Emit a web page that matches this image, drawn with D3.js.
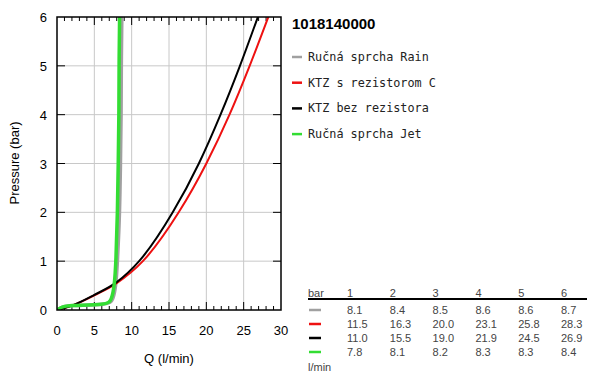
<!DOCTYPE html>
<html>
<head>
<meta charset="utf-8">
<script src="https://cdn.jsdelivr.net/npm/d3@7"></script>
<style>
  body { margin: 0; background: #fff; }
  svg { font-family: "Liberation Sans", Arial, sans-serif; }
  .mono { font-family: "DejaVu Sans Mono", "Liberation Mono", monospace; }
</style>
</head>
<body>
<svg id="vis" width="600" height="378"></svg>
<script>
// series: [Q (l/min), pressure (bar)]
var rain = [[0,0],[0.6,0.06],[1.5,0.1],[6.9,0.1],[7.5,0.2],[7.9,0.5],[8.1,1],[8.4,2],[8.5,3],[8.6,4],[8.6,5],[8.7,6.2]];
var ktzC = [[0,0],[1,0.04],[2,0.09],[5,0.3],[8,0.55],[11.5,1],[16.3,2],[20.0,3],[23.1,4],[25.8,5],[28.3,6]];
var ktz = [[0,0],[1,0.04],[2,0.09],[5,0.31],[8,0.57],[11.0,1],[15.5,2],[19.0,3],[21.9,4],[24.5,5],[26.9,6]];
var jet = [[0,0],[0.6,0.06],[1.5,0.1],[6.7,0.1],[7.3,0.2],[7.7,0.5],[7.9,1],[8.1,2],[8.2,3],[8.3,4],[8.3,5],[8.4,6.2]];

var seriesNames = ["Ručná sprcha Rain", "KTZ s rezistorom C", "KTZ bez rezistora", "Ručná sprcha Jet"];
var seriesColors = ["#a0a0a0", "#ee1111", "#000000", "#33dd33"];

// table
var tableBars = ["1", "2", "3", "4", "5", "6"];
var tableRows = [
  ["8.1", "8.4", "8.5", "8.6", "8.6", "8.7"],
  ["11.5", "16.3", "20.0", "23.1", "25.8", "28.3"],
  ["11.0", "15.5", "19.0", "21.9", "24.5", "26.9"],
  ["7.8", "8.1", "8.2", "8.3", "8.3", "8.4"]
];

var title = "1018140000";

var svg = d3.select("svg#vis");
var plot = { left: 57, right: 281, top: 17, bottom: 310 };

var x = d3.scaleLinear().domain([0, 30]).range([plot.left, plot.right]);
var y = d3.scaleLinear().domain([0, 6]).range([plot.bottom, plot.top]);

// grid
svg.append("g").selectAll("line.gx")
  .data(d3.range(5, 30, 5))
  .enter().append("line")
  .attr("x1", d => x(d)).attr("x2", d => x(d))
  .attr("y1", plot.top).attr("y2", plot.bottom)
  .attr("stroke", "#c8c8c8").attr("stroke-width", 1);

svg.append("g").selectAll("line.gy")
  .data(d3.range(1, 6))
  .enter().append("line")
  .attr("x1", plot.left).attr("x2", plot.right)
  .attr("y1", d => y(d)).attr("y2", d => y(d))
  .attr("stroke", "#c8c8c8").attr("stroke-width", 1);

// ticks (inward)
var minor = d3.range(1, 30);
var ticks = svg.append("g").attr("stroke", "#000").attr("stroke-width", 1);
minor.forEach(function(v) {
  var len = v % 5 == 0 ? 8 : 4;
  ticks.append("line").attr("x1", x(v)).attr("x2", x(v)).attr("y1", plot.bottom).attr("y2", plot.bottom - len);
  ticks.append("line").attr("x1", x(v)).attr("x2", x(v)).attr("y1", plot.top).attr("y2", plot.top + len);
});
d3.range(1, 6).forEach(function(v) {
  ticks.append("line").attr("x1", plot.left).attr("x2", plot.left + 8).attr("y1", y(v)).attr("y2", y(v));
  ticks.append("line").attr("x1", plot.right).attr("x2", plot.right - 8).attr("y1", y(v)).attr("y2", y(v));
});

// tick labels
svg.append("g").selectAll("text")
  .data(d3.range(0, 31, 5))
  .enter().append("text")
  .attr("x", d => x(d)).attr("y", 335)
  .attr("text-anchor", "middle").attr("font-size", 13)
  .text(d => d);

svg.append("g").selectAll("text")
  .data(d3.range(0, 7))
  .enter().append("text")
  .attr("x", 47).attr("y", d => y(d) + 5)
  .attr("text-anchor", "end").attr("font-size", 13)
  .text(d => d);

svg.append("text").attr("x", 169).attr("y", 363).attr("text-anchor", "middle")
  .attr("font-size", 13).text("Q (l/min)");
svg.append("text").attr("transform", "translate(19,163) rotate(-90)").attr("text-anchor", "middle")
  .attr("font-size", 13).text("Pressure (bar)");

// curves
var smoothLine = d3.line().x(d => x(d[0])).y(d => y(d[1])).curve(d3.curveMonotoneX);
var kneeLine = d3.line().x(d => x(d[0])).y(d => y(d[1])).curve(d3.curveBasis);
var clip = svg.append("clipPath").attr("id", "clip").append("rect")
  .attr("x", plot.left).attr("y", plot.top).attr("width", plot.right - plot.left).attr("height", plot.bottom - plot.top);
var curves = svg.append("g").attr("clip-path", "url(#clip)");
var data = [rain, ktzC, ktz, jet];
var widths = [3.5, 2, 2, 3.5];
var gens = [kneeLine, smoothLine, smoothLine, kneeLine];
data.forEach(function(s, i) {
  curves.append("path").datum(s)
    .attr("d", gens[i])
    .attr("fill", "none")
    .attr("stroke", seriesColors[i])
    .attr("stroke-width", widths[i]);
});

// frame
svg.append("rect").attr("x", plot.left).attr("y", plot.top)
  .attr("width", plot.right - plot.left).attr("height", plot.bottom - plot.top)
  .attr("fill", "none").attr("stroke", "#000").attr("stroke-width", 1.5);

// title + legend
svg.append("text").attr("x", 292).attr("y", 29).attr("font-size", 15).attr("font-weight", "bold").text(title);

var legend = svg.append("g").selectAll("g")
  .data(seriesNames)
  .enter().append("g")
  .attr("transform", (d, i) => "translate(292," + (57 + i * 25.7) + ")");
legend.append("line").attr("x1", 0).attr("x2", 10).attr("y1", 0).attr("y2", 0)
  .attr("stroke", (d, i) => seriesColors[i]).attr("stroke-width", 2.5);
legend.append("text").attr("class", "mono").attr("x", 16).attr("y", 4)
  .attr("font-size", 11.8).attr("fill", "#222").text(d => d);

// table
var colX = d3.scalePoint().domain(tableBars).range([347, 561]);
var tbl = svg.append("g").attr("font-size", 11).attr("fill", "#444");
tbl.append("text").attr("x", 308).attr("y", 297).attr("fill", "#444").attr("font-size", 11).text("bar");
tbl.selectAll("text.hd").data(tableBars).enter().append("text")
  .attr("class", "hd").attr("x", d => colX(d)).attr("y", 297).attr("fill", "#444").text(d => d);
tbl.append("line").attr("x1", 308).attr("x2", 587).attr("y1", 299).attr("y2", 299)
  .attr("stroke", "#000").attr("stroke-width", 2);
tableRows.forEach(function(row, i) {
  var ry = 314 + i * 14;
  tbl.append("line").attr("x1", 309).attr("x2", 321).attr("y1", ry - 4).attr("y2", ry - 4)
    .attr("stroke", seriesColors[i]).attr("stroke-width", 2.5);
  tbl.selectAll("text.r" + i).data(row).enter().append("text")
    .attr("x", (d, j) => colX(tableBars[j])).attr("y", ry).attr("fill", "#444").text(d => d);
});
tbl.append("text").attr("x", 308).attr("y", 371).attr("fill", "#444").attr("font-size", 11).text("l/min");
</script>
</body>
</html>
